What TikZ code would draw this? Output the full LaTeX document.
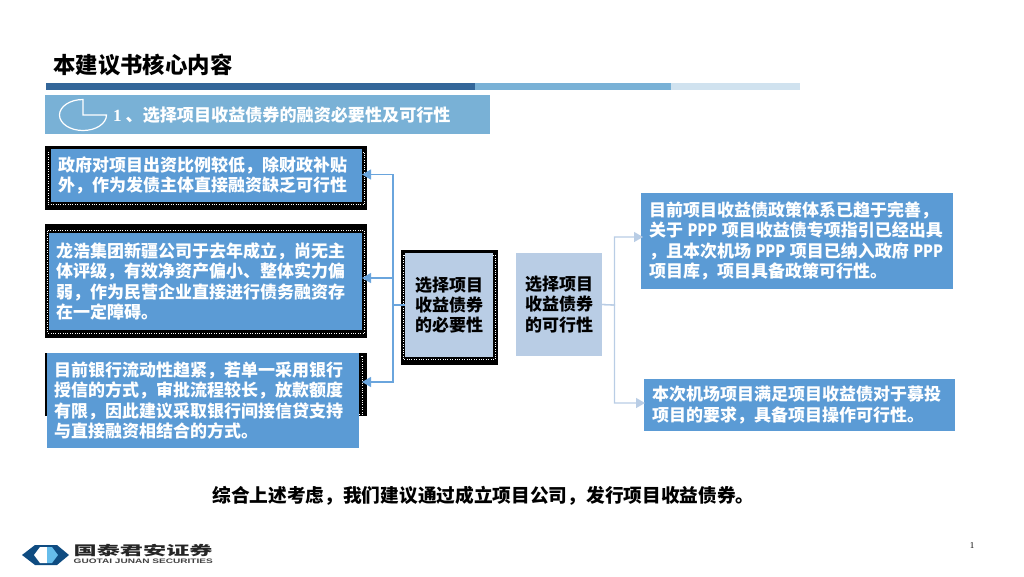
\documentclass[tikz,border=0pt]{standalone}
\usepackage{fontspec}
\setmainfont{Noto Sans CJK SC}
\newfontfamily\numfont{Liberation Serif}
\newfontfamily\logofont{Liberation Sans}
\usetikzlibrary{arrows.meta}
\definecolor{boxblue}{HTML}{5B9BD5}
\definecolor{boxlight}{HTML}{B9CDE5}
\definecolor{lineblue}{HTML}{6AA5DD}
\definecolor{bardark}{HTML}{336699}
\definecolor{barmid}{HTML}{79B1D6}
\definecolor{barpale}{HTML}{D0E2EF}
\definecolor{logodark}{HTML}{0F4C81}
\definecolor{logosky}{HTML}{66BDEB}
\newcommand{\pppword}{\scalebox{.85}[1]{PPP}}
\tikzset{
  barbox/.style={anchor=north west, inner sep=0pt, outer sep=0pt},
  framebox/.style={barbox, fill=black},
  framedots/.style={draw=white, line width=.9pt, dash pattern=on .9pt off 1.5pt},
  reasonbox/.style={barbox, fill=boxblue, text=white, align=left, inner xsep=7pt,
    font=\fontsize{17}{20.3}\selectfont\bfseries},
  topicbox/.style={barbox, fill=boxlight, text=black, align=center,
    font=\fontsize{17}{20.3}\selectfont\bfseries},
  needline/.style={draw=lineblue, line width=1.3pt, -{Triangle[length=9pt,width=10pt]}},
  feasline/.style={draw=boxlight, line width=1.3pt, -{Triangle[length=9pt,width=10pt]}}
}
\begin{document}
\begin{tikzpicture}[x=1pt,y=-1pt]
\useasboundingbox (0,0) rectangle (1024,576);
\node[anchor=west, inner sep=0pt, font=\fontsize{22.4}{26}\selectfont\bfseries] (title) at (53,65) {本建议书核心内容};
\node[barbox, fill=bardark, minimum width=429pt, minimum height=7pt] (bara) at (46,83) {};
\node[barbox, fill=barmid, minimum width=196pt, minimum height=7pt] (barb) at (475,83) {};
\node[barbox, fill=barpale, minimum width=129pt, minimum height=7pt] (barc) at (671,83) {};
\node[barbox, fill=barmid, minimum width=445pt, minimum height=39pt] (band) at (45,95) {};
\draw[white, line width=1.2pt] (83,115) -- (83,99.5) arc[start angle=-90, end angle=-360, x radius=23.5, y radius=15.5] -- cycle;
\node[anchor=west, inner sep=0pt, text=white, font=\fontsize{17.1}{20}\selectfont\bfseries] (bandtext) at (113,115) {{\numfont 1} 、选择项目收益债券的融资必要性及可行性};

\node[framebox, minimum width=322pt, minimum height=64pt] (framea) at (45,146) {};
\draw[framedots] (48,152) rectangle (364.5,204.5);
\node[reasonbox, minimum width=311pt, minimum height=53pt, text width=297pt] (needa) at (51,149) {政府对项目出资比例较低，除财政补贴\\外，作为发债主体直接融资缺乏可行性};

\node[framebox, minimum width=322pt, minimum height=114pt] (frameb) at (45,224) {};
\draw[framedots] (47.5,230.5) rectangle (364.5,333);
\node[reasonbox, minimum width=313pt, minimum height=97pt, text width=299pt] (needb) at (49,233) {龙浩集团新疆公司于去年成立，尚无主\\体评级，有效净资产偏小、整体实力偏\\弱，作为民营企业直接进行债务融资存\\在一定障碍。};

\node[framebox, minimum width=322pt, minimum height=63pt] (framec) at (45,353) {};
\draw[framedots] (50,356) rectangle (362.5,414);
\node[reasonbox, minimum width=311.5pt, minimum height=95pt, text width=297.5pt] (needc) at (47,353) {目前银行流动性趋紧，若单一采用银行\\授信的方式，审批流程较长，放款额度\\有限，因此建议采取银行间接信贷支持\\与直接融资相结合的方式。};

\node[framebox, minimum width=97pt, minimum height=115pt] (framed) at (401,250) {};
\draw[framedots] (403,255) rectangle (495,359.5);
\node[topicbox, minimum width=88pt, minimum height=104pt] (need) at (405,253) {选择项目\\收益债券\\的必要性};
\node[topicbox, minimum width=86pt, minimum height=103pt] (feas) at (516,253) {选择项目\\收益债券\\的可行性};

\node[reasonbox, inner xsep=8pt, minimum width=312pt, minimum height=96pt, text width=296pt] (feasa) at (641,193) {\spaceskip=4.5pt\relax\mbox{目前项目收益债政策体系已趋于完善，}\\\mbox{关于 \pppword{} 项目收益债专项指引已经出具}\\\mbox{，且本次机场 \pppword{} 项目已纳入政府 \pppword}\\项目库，项目具备政策可行性。};
\node[reasonbox, inner xsep=8pt, minimum width=311pt, minimum height=52pt, text width=295pt] (feasb) at (644,379) {本次机场项目满足项目收益债对于募投\\项目的要求，具备项目操作可行性。};

\coordinate (needjoin) at (393,305);
\coordinate (feasjoin) at (614.5,305);
\draw[needline] (need.west) -- (needjoin) |- ([yshift=1pt]needa.east);
\draw[needline] (need.west) -- (needjoin) |- ([yshift=3.5pt]needb.east);
\draw[needline] (need.west) -- (needjoin) |- ([yshift=18.5pt,xshift=3.5pt]needc.east);
\draw[feasline] (feas.east) -- (feasjoin) |- ([yshift=4pt,xshift=2pt]feasa.west);
\draw[feasline] (feas.east) -- (feasjoin) |- ([yshift=2pt,xshift=1pt]feasb.west);

\node[anchor=center, inner sep=0pt, font=\fontsize{18.7}{22}\selectfont\bfseries] (summary) at (483.5,496) {综合上述考虑，我们建议通过成立项目公司，发行项目收益债券。};
\node[anchor=center, inner sep=0pt, font=\fontsize{9}{10}\selectfont\numfont] (pagenum) at (972,546) {1};

\fill[logodark] (22,555) -- (35,545) -- (57,545) -- (69,555) -- (57,565) -- (35,565) -- cycle;
\fill[white] (34,555) -- (40,547) -- (47,547) -- (47,563) -- (40,563) -- cycle;
\fill[logosky] (47,547) -- (52,547) -- (58,555) -- (52,563) -- (47,563) -- cycle;
\node[anchor=west, inner sep=0pt, font=\fontsize{13}{14}\selectfont\bfseries, text=black!85] (logoname) at (73.5,551) {\scalebox{1.78}[1]{国泰君安证券}};
\node[anchor=west, inner sep=0pt, font=\fontsize{6.5}{7}\selectfont\logofont\bfseries, text=black!75] (logolatin) at (73.5,561) {\scalebox{1.55}[1]{GUOTAI JUNAN SECURITIES}};
\end{tikzpicture}
\end{document}
